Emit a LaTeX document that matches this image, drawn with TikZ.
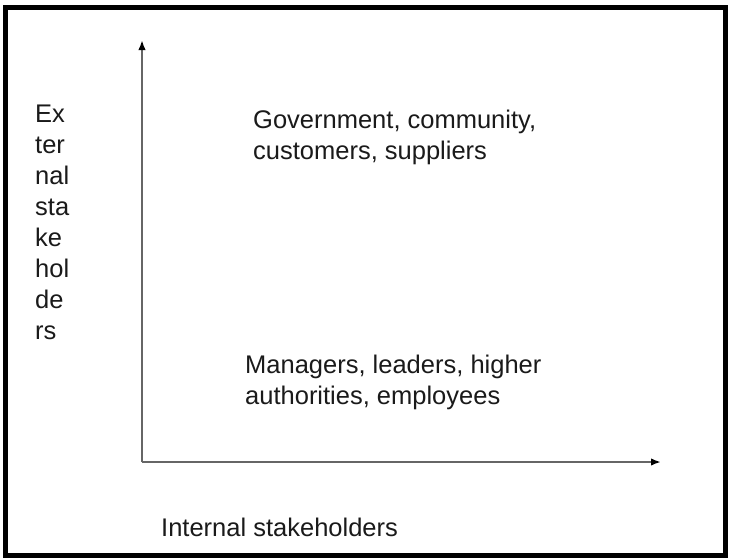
\documentclass[tikz,border=0pt]{standalone}
\usepackage{fontspec}
\setmainfont{Liberation Sans}
\usetikzlibrary{arrows.meta}
\definecolor{axisgray}{HTML}{666666}
\definecolor{txt}{HTML}{1A1A1A}
\tikzset{
  axisline/.style={draw=axisgray, line width=2pt, -{Latex[length=10pt,width=7.5pt,fill=black,color=black]}},
  label/.style={anchor=base west, inner sep=0pt, text=txt, font=\fontsize{25.5}{30.8}\selectfont},
  vlabel/.style={anchor=base west, inner sep=0pt, text=txt, font=\fontsize{25.5}{30.9}\selectfont},
}
\begin{document}
\begin{tikzpicture}[x=1pt,y=-1pt]
\useasboundingbox (0,0) rectangle (732,560);
\fill[white] (0,0) rectangle (732,560);
\draw[line width=5pt, black] (5,7.5) rectangle (725.5,555);
\coordinate (origin) at (142,462);
\coordinate (ytip) at (142,40);
\coordinate (xtip) at (661,462);
\draw[axisline] (origin) -- (ytip);
\draw[axisline] (origin) -- (xtip);
\node[label] (ext) at (253,128.2) {\begin{tabular}[t]{@{}l@{}}Government, community,\\customers, suppliers\end{tabular}};
\node[label] (int) at (245,373.8) {\begin{tabular}[t]{@{}l@{}}Managers, leaders, higher\\authorities, employees\end{tabular}};
\node[label] (xlab) at (161,536) {Internal stakeholders};
\node[vlabel] (ylab) at (35,122.7) {\begin{tabular}[t]{@{}l@{}}Ex\\ter\\nal\\sta\\ke\\hol\\de\\rs\end{tabular}};
\end{tikzpicture}
\end{document}
